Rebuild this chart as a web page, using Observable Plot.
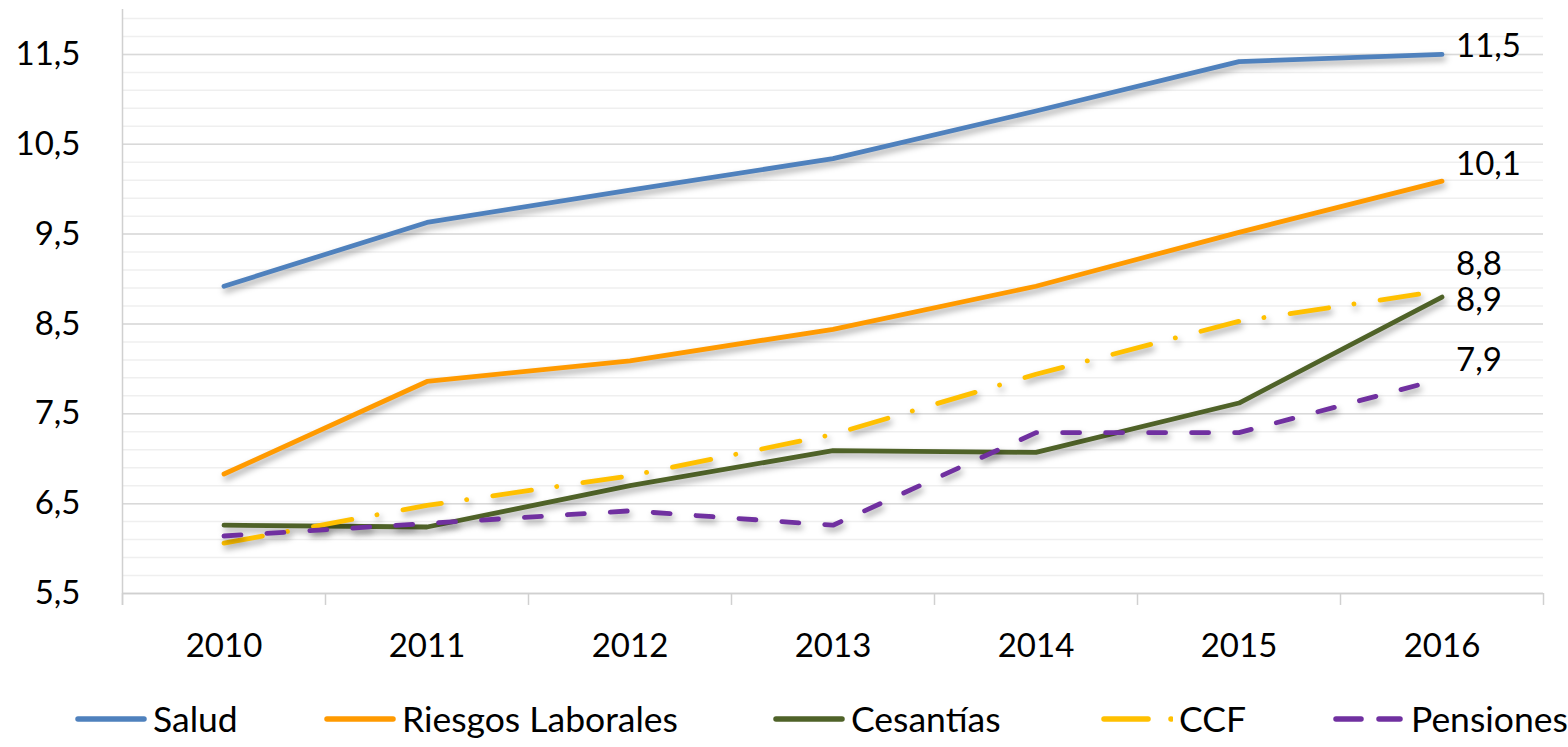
<!DOCTYPE html>
<html><head><meta charset="utf-8">
<script src="https://cdn.jsdelivr.net/npm/d3@7"></script>
<script src="https://cdn.jsdelivr.net/npm/@observablehq/plot@0.6"></script>
<style>
body{margin:0;background:#fff;font-family:Lato,sans-serif;}
#chart svg path.shadowed{filter:drop-shadow(2px 4px 3px rgba(0,0,0,0.35));}
#legend{position:relative;height:57px;font-size:35.5px;color:#000;}
#legend .item{position:absolute;top:0;height:57px;display:flex;align-items:center;gap:6px;white-space:nowrap;}
</style></head><body>
<div id="chart"></div>
<div id="legend"></div>
<script>
// ---- data ----
const years = [2010, 2011, 2012, 2013, 2014, 2015, 2016];
const seriesNames = ["Salud", "Riesgos Laborales", "Cesantías", "CCF", "Pensiones"];
const salud     = [8.92, 9.63, 9.99, 10.34, 10.87, 11.42, 11.50];
const riesgos   = [6.83, 7.86, 8.09, 8.44, 8.92, 9.52, 10.09];
const cesantias = [6.26, 6.24, 6.70, 7.09, 7.07, 7.62, 8.80];
const ccf       = [6.06, 6.48, 6.81, 7.27, 7.94, 8.53, 8.87];
const pensiones = [6.14, 6.28, 6.42, 6.26, 7.29, 7.29, 7.89];
const endLabels = ["11,5", "10,1", "8,8", "8,9", "7,9"];
const yTicks = [5.5, 6.5, 7.5, 8.5, 9.5, 10.5, 11.5];

// ---- styles ----
const values = [salud, riesgos, cesantias, ccf, pensiones];
const colors = ["#4F81BD", "#FF9A00", "#4F6228", "#FFC000", "#7030A0"];
const dashes = [null, null, null, "39,25.5,0.1,26.4", "17,26"];
const labelDy = [-8, -17, -33, 10, -18];
const legendLeft = [75, 324, 773, 1101, 1333];

const rows = seriesNames.map((s, i) => years.map((yr, j) => ({series: s, year: yr, value: values[i][j]})));
const minorTicks = d3.range(0, 33).map(k => +(5.5 + 0.2 * k).toFixed(1));
const bounds = d3.range(years.length + 1).map(k => years[0] - 0.5 + k);
const fmt = d => d.toFixed(1).replace(".", ",");

const marks = [
  Plot.ruleY(minorTicks, {stroke: "#efefef", strokeWidth: 1.5}),
  Plot.ruleY(yTicks, {stroke: "#d9d9d9", strokeWidth: 1.5}),
  Plot.ruleY([5.5], {stroke: "#d0d0d0", strokeWidth: 1.5}),
  Plot.ruleX([bounds[0]], {y1: 5.367, y2: 12, stroke: "#d0d0d0", strokeWidth: 1.5}),
  Plot.ruleX(bounds, {y1: 5.367, y2: 5.5, stroke: "#d0d0d0", strokeWidth: 1.5}),
  Plot.axisY(yTicks, {tickSize: 0, tickPadding: 42, tickFormat: fmt, label: null}),
  Plot.axisX(years, {tickSize: 0, tickPadding: 40, tickFormat: d => String(d), label: null})
];
seriesNames.forEach((s, i) => {
  marks.push(Plot.line(rows[i], {
    x: "year", y: "value", stroke: colors[i], strokeWidth: 4.8,
    strokeLinecap: "round", strokeLinejoin: "round",
    strokeDasharray: dashes[i] || undefined
  }));
});
seriesNames.forEach((s, i) => {
  marks.push(Plot.text([rows[i][rows[i].length - 1]], {
    x: "year", y: "value", text: () => endLabels[i], textAnchor: "start",
    dx: 14, dy: labelDy[i], fill: "#000"
  }));
});

const plot = Plot.plot({
  width: 1568, height: 690,
  marginLeft: 122, marginRight: 25, marginTop: 9, marginBottom: 97,
  x: {type: "linear", domain: [bounds[0], bounds[bounds.length - 1]], label: null},
  y: {domain: [5.5, 12], label: null},
  style: {fontFamily: "Lato, sans-serif", fontSize: "33px", color: "#000", background: "#fff", overflow: "visible"},
  marks
});
plot.querySelectorAll("g[aria-label='line'] path").forEach(p => p.classList.add("shadowed"));
document.getElementById("chart").appendChild(plot);

// ---- legend ----
const legend = document.getElementById("legend");
seriesNames.forEach((s, i) => {
  const item = document.createElement("div");
  item.className = "item";
  item.style.left = legendLeft[i] + "px";
  const w = 72;
  let sw;
  if (i === 3) {
    sw = `<svg width="${w}" height="12"><line x1="3" y1="6" x2="47" y2="6" stroke="${colors[i]}" stroke-width="5.5" stroke-linecap="round"/><line x1="70" y1="6" x2="70.1" y2="6" stroke="${colors[i]}" stroke-width="5.5" stroke-linecap="round"/></svg>`;
  } else if (i === 4) {
    sw = `<svg width="${w}" height="12"><line x1="3" y1="6" x2="28" y2="6" stroke="${colors[i]}" stroke-width="5.5" stroke-linecap="round"/><line x1="46" y1="6" x2="67" y2="6" stroke="${colors[i]}" stroke-width="5.5" stroke-linecap="round"/></svg>`;
  } else {
    sw = `<svg width="${w}" height="12"><line x1="3" y1="6" x2="69" y2="6" stroke="${colors[i]}" stroke-width="5.5" stroke-linecap="round"/></svg>`;
  }
  item.innerHTML = sw + `<span>${s}</span>`;
  legend.appendChild(item);
});
</script>
</body></html>
